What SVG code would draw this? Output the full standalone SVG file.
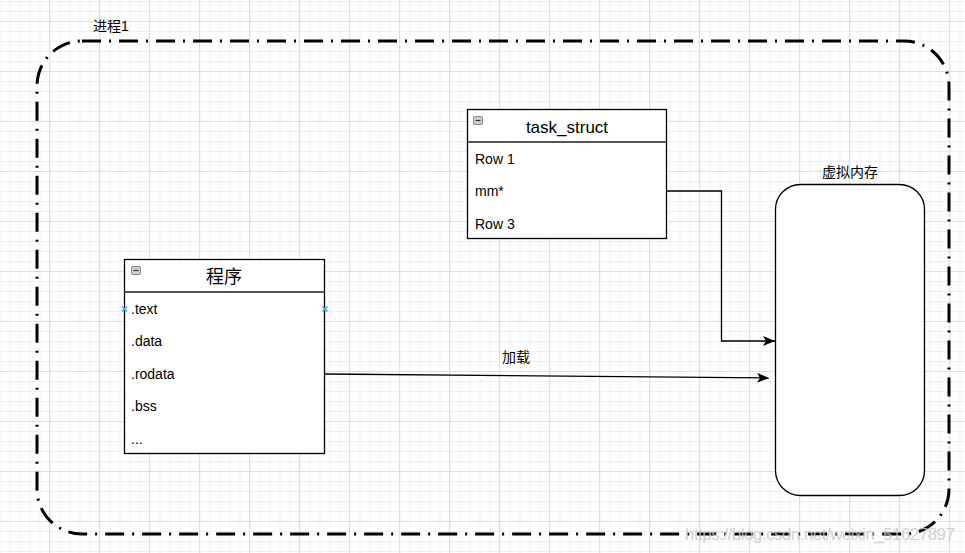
<svg xmlns="http://www.w3.org/2000/svg" width="965" height="553" viewBox="0 0 965 553">
<defs>
<pattern id="minor" width="10" height="10" patternUnits="userSpaceOnUse" x="9.5" y="1">
<path d="M0 0.5H10M0.5 0V10" fill="none" stroke="#f0f0f0" stroke-width="1"/>
</pattern>
<pattern id="major" width="50" height="50" patternUnits="userSpaceOnUse" x="49" y="21">
<path d="M0 0.5H50M0.5 0V50" fill="none" stroke="#dedede" stroke-width="1"/>
</pattern>
<marker id="arrow" viewBox="0 0 12 10" refX="12" refY="5" markerWidth="12" markerHeight="10" markerUnits="userSpaceOnUse" orient="auto">
<path d="M0 0L12 5L0 10L3 5Z" fill="#000"/>
</marker>
</defs>
<style>
text{font-family:"Liberation Sans","Noto Sans CJK SC",sans-serif;fill:#000}
.row{font-size:14px}
.box{fill:#fff;stroke:#000;stroke-width:1.3}
.hdr{stroke:#555;stroke-width:2}
.icon{fill:#d0d0d0;stroke:#888;stroke-width:1}
.mark{stroke:#29b6f2;stroke-width:1.5;fill:none}
.conn{fill:none;stroke:#000;stroke-width:1.3}
</style>
<rect width="965" height="553" fill="#fff"/>
<rect width="965" height="553" fill="url(#minor)"/>
<rect width="965" height="553" fill="url(#major)"/>

<g id="process1">
<rect x="37" y="41" width="912" height="493" rx="45" ry="45" fill="none" stroke="#000" stroke-width="3" stroke-dasharray="19 8 2 8"/>
<text x="93" y="31" font-size="14">进程1</text>
</g>

<g id="task_struct">
<rect class="box" x="467.5" y="109.5" width="199" height="129"/>
<line class="hdr" x1="467.5" y1="142" x2="666.5" y2="142"/>
<rect class="icon" x="473.5" y="116.5" width="9" height="8" rx="1.5"/>
<line x1="475.5" y1="120.5" x2="480.5" y2="120.5" stroke="#333" stroke-width="1.2"/>
<text x="567" y="133" font-size="17" text-anchor="middle">task_struct</text>
<text class="row" x="475" y="164">Row 1</text>
<text class="row" x="475" y="196">mm*</text>
<text class="row" x="475" y="229">Row 3</text>
</g>

<g id="program">
<rect class="box" x="124.5" y="259.5" width="200" height="194"/>
<line class="hdr" x1="124.5" y1="292" x2="324.5" y2="292"/>
<rect class="icon" x="131.5" y="266.5" width="9" height="8" rx="1.5"/>
<line x1="133.5" y1="270.5" x2="138.5" y2="270.5" stroke="#333" stroke-width="1.2"/>
<text x="224" y="283" font-size="18" text-anchor="middle">程序</text>
<text class="row" x="131" y="314">.text</text>
<text class="row" x="131" y="346">.data</text>
<text class="row" x="131" y="379">.rodata</text>
<text class="row" x="131" y="411">.bss</text>
<text class="row" x="131" y="444">...</text>
<path class="mark" d="M122 306.5L127 311.5M127 306.5L122 311.5"/>
<path class="mark" d="M322.5 306.5L327.5 311.5M327.5 306.5L322.5 311.5"/>
</g>

<g id="virtual_memory">
<rect x="775.5" y="184.5" width="149" height="311" rx="25" ry="25" fill="#fff" stroke="#000" stroke-width="1.3"/>
<text x="850" y="177" font-size="14" text-anchor="middle">虚拟内存</text>
</g>

<g id="connectors">
<path class="conn" d="M667 191H721.5V341H775" marker-end="url(#arrow)"/>
<path class="conn" d="M325 374L769 378" marker-end="url(#arrow)"/>
<text x="516" y="362" font-size="14" text-anchor="middle">加载</text>
</g>

<text x="685" y="540" font-size="17" textLength="270" fill="#c8c8c8" style="fill:#c8c8c8" opacity="0.8">https://blog.csdn.net/weixin_51627897</text>
</svg>
